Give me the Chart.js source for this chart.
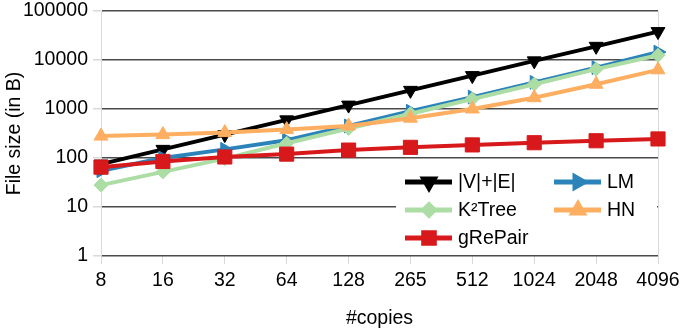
<!DOCTYPE html>
<html>
<head>
<meta charset="utf-8">
<script src="https://cdn.jsdelivr.net/npm/chart.js@4.4.1/dist/chart.umd.min.js"></script>
<style>
  html, body { margin: 0; padding: 0; background: #fff; }
  #wrap { width: 681px; height: 328px; }
</style>
</head>
<body>
<div id="wrap"><canvas id="chart"></canvas></div>
<script>
// valori (asse y logaritmico)
const copies = ['8', '16', '32', '64', '128', '265', '512', '1024', '2048', '4096'];
const yTicks = [1, 10, 100, 1000, 10000, 100000];

const veSizes = [75, 150, 300, 600, 1200, 2400, 4800, 9600, 19000, 38000];
const lmSizes = [55, 100, 150, 230, 450, 900, 1750, 3500, 7000, 14500];
const k2Sizes = [28, 52, 97, 200, 400, 800, 1600, 3200, 6500, 12500];
const hnSizes = [280, 300, 330, 380, 450, 650, 1000, 1700, 3200, 6300];
const grSizes = [65, 85, 105, 120, 145, 165, 185, 205, 225, 245];

const FONT = 'Liberation Sans, Arial, sans-serif';
const FSIZE = 19.5;

function serie(label, data, color, style, rotation, radius, order) {
    return {
        label: label,
        data: data,
        borderColor: color,
        backgroundColor: color,
        borderWidth: 4,
        pointStyle: style,
        pointRotation: rotation,
        pointRadius: radius,
        pointHoverRadius: radius,
        pointBorderWidth: 1,
        tension: 0,
        order: order
    };
}

const datasets = [
    serie('|V|+|E|', veSizes, '#000000', 'triangle', 180, 8, 4),
    serie('LM', lmSizes, '#2b83ba', 'triangle', 90, 8, 3),
    serie('K²Tree', k2Sizes, '#abdda4', 'rectRot', 0, 7, 2),
    serie('HN', hnSizes, '#fdae61', 'triangle', 0, 8, 1),
    serie('gRePair', grSizes, '#d7191c', 'rect', 0, 10, 0)
];

// legenda dentro l'area del grafico, in basso a destra, su due colonne
const boxLegend = {
    id: 'boxLegend',
    afterDatasetsDraw(chart) {
        const ctx = chart.ctx;
        const area = chart.chartArea;
        const right = area.right;
        const bottom = area.bottom;
        ctx.save();
        ctx.fillStyle = '#ffffff';
        ctx.fillRect(right - 262, bottom - 91, 261, 87);
        const cols = [right - 253, right - 104];
        const rows = [bottom - 74, bottom - 46, bottom - 18];
        ctx.font = FSIZE + 'px ' + FONT;
        ctx.textBaseline = 'middle';
        chart.data.datasets.forEach((ds, i) => {
            const x = cols[i % 2];
            const y = rows[Math.floor(i / 2)];
            ctx.strokeStyle = ds.borderColor;
            ctx.fillStyle = ds.backgroundColor;
            ctx.lineWidth = 5;
            ctx.beginPath();
            ctx.moveTo(x, y);
            ctx.lineTo(x + 47, y);
            ctx.stroke();
            Chart.helpers.drawPoint(ctx, {
                pointStyle: ds.pointStyle,
                rotation: ds.pointRotation,
                radius: ds.pointRadius * 0.75,
                borderWidth: 1
            }, x + 24, y);
            ctx.fillStyle = '#000000';
            ctx.fillText(ds.label, x + 53, y + 1);
        });
        ctx.restore();
    }
};

new Chart(document.getElementById('chart'), {
    type: 'line',
    data: { labels: copies, datasets: datasets },
    plugins: [boxLegend],
    options: {
        responsive: true,
        maintainAspectRatio: false,
        animation: false,
        layout: { padding: 0 },
        scales: {
            x: {
                offset: false,
                afterFit: (s) => { s.height = 72; s.paddingRight = 23; s.paddingLeft = 0; },
                grid: {
                    color: (c) => (c.index === 0 || c.index === copies.length - 1) ? '#d9d9d9' : 'rgba(0,0,0,0)',
                    tickColor: '#d9d9d9',
                    tickLength: 8,
                    lineWidth: 1
                },
                border: { display: false },
                ticks: { color: '#000', font: { family: FONT, size: FSIZE }, padding: 5, maxRotation: 0 },
                title: { display: true, text: '#copies', color: '#000', font: { family: FONT, size: FSIZE }, padding: { top: 4, bottom: -2 } }
            },
            y: {
                type: 'logarithmic',
                min: 1,
                max: 100000,
                afterFit: (s) => { s.width = 101; s.paddingTop = 10; s.paddingBottom = 0; },
                afterBuildTicks: (axis) => { axis.ticks = yTicks.map(v => ({ value: v })); },
                grid: { color: '#4a4a4a', lineWidth: 1.5, tickColor: '#d9d9d9', tickLength: 8 },
                border: { display: true, color: '#d9d9d9' },
                ticks: {
                    color: '#000',
                    font: { family: FONT, size: FSIZE, lineHeight: 1 },
                    padding: 5,
                    callback: (v) => String(v)
                },
                title: { display: true, text: 'File size (in B)', color: '#000', font: { family: FONT, size: FSIZE, lineHeight: 1 }, padding: { top: 5, bottom: -5 } }
            }
        },
        plugins: {
            legend: { display: false },
            tooltip: { enabled: false }
        }
    }
});
</script>
</body>
</html>
